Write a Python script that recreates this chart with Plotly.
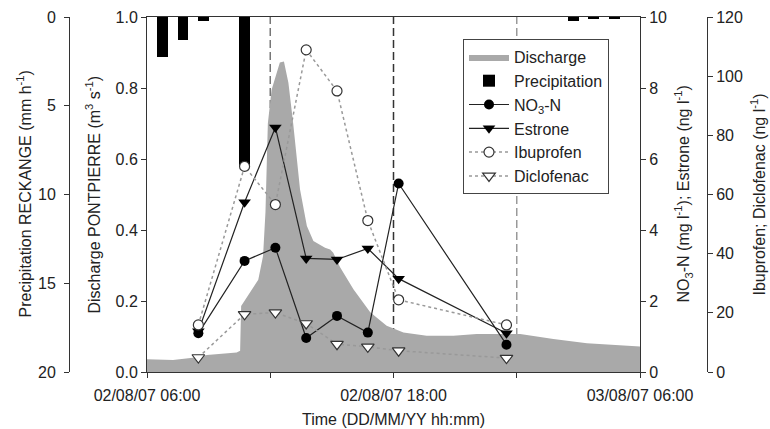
import plotly.graph_objects as go

# ---------------- data ----------------
q_time = ["2007-08-02 06:00", "2007-08-02 07:16", "2007-08-02 08:20", "2007-08-02 08:55",
          "2007-08-02 10:22", "2007-08-02 10:32", "2007-08-02 10:35", "2007-08-02 11:01",
          "2007-08-02 11:25", "2007-08-02 11:39", "2007-08-02 11:46", "2007-08-02 11:53",
          "2007-08-02 12:04", "2007-08-02 12:28", "2007-08-02 12:40", "2007-08-02 12:53",
          "2007-08-02 13:07", "2007-08-02 13:27", "2007-08-02 13:47", "2007-08-02 14:06",
          "2007-08-02 14:40", "2007-08-02 14:55", "2007-08-02 15:04", "2007-08-02 15:24",
          "2007-08-02 16:03", "2007-08-02 16:52", "2007-08-02 17:40", "2007-08-02 18:29",
          "2007-08-02 19:37", "2007-08-02 20:55", "2007-08-02 22:03", "2007-08-03 00:10",
          "2007-08-03 01:47", "2007-08-03 03:25", "2007-08-03 06:00"]
discharge = [0.036, 0.034, 0.041, 0.048,
             0.055, 0.060, 0.186, 0.224,
             0.260, 0.327, 0.45, 0.70,
             0.795, 0.872, 0.875, 0.815,
             0.700, 0.514, 0.411, 0.369,
             0.350, 0.345, 0.336, 0.295,
             0.233, 0.168, 0.130, 0.111,
             0.102, 0.102, 0.107, 0.107,
             0.093, 0.081, 0.072]

p_time = ["2007-08-02 06:45", "2007-08-02 07:45", "2007-08-02 08:45", "2007-08-02 10:45",
          "2007-08-03 02:45", "2007-08-03 03:45", "2007-08-03 04:45"]
precip = [2.25, 1.3, 0.2, 8.4, 0.2, 0.1, 0.1]

s_time = ["2007-08-02 08:30", "2007-08-02 10:45", "2007-08-02 12:15", "2007-08-02 13:45",
          "2007-08-02 15:15", "2007-08-02 16:45", "2007-08-02 18:15", "2007-08-02 23:30"]
no3 = [1.09, 3.13, 3.50, 0.96, 1.58, 1.11, 5.31, 0.77]
estrone = [1.15, 4.78, 6.89, 3.20, 3.17, 3.48, 2.63, 1.09]
ibuprofen = [15.9, 69.5, 56.6, 108.9, 95.0, 51.2, 24.4, 15.9]
diclofenac = [4.9, 19.5, 20.1, 16.4, 9.4, 8.5, 7.2, 4.7]

x_ticks = ["2007-08-02 06:00", "2007-08-02 18:00", "2007-08-03 06:00"]
x_ticktext = ["02/08/07 06:00", "02/08/07 18:00", "03/08/07 06:00"]
vlines = ["2007-08-02 12:00", "2007-08-02 18:00", "2007-08-03 00:00"]
vline_colors = ["#777777", "#333333", "#999999"]

# ---------------- layout geometry ----------------
W, H = 770, 429
L, R = 147, 640
T, B = 17, 372
FONT = "Arial, Liberation Sans, sans-serif"
FS = 16
AX = "#333333"


def px(x):
    return x / W


def py(y):
    return (B - y) / (B - T)


fig = go.Figure()

fig.add_trace(go.Scatter(x=q_time, y=discharge, name="Discharge", mode="lines",
                         fill="tozeroy", fillcolor="#a9a9a9",
                         line=dict(color="#a9a9a9", width=0), yaxis="y"))

fig.add_trace(go.Bar(x=p_time, y=precip, name="Precipitation", marker_color="black",
                     marker_line_width=0, width=1.9e6, yaxis="y2"))

fig.add_trace(go.Scatter(x=s_time, y=no3, name="NO<sub>3</sub>-N", mode="lines+markers",
                         line=dict(color="#222222", width=1.2),
                         marker=dict(symbol="circle", size=10, color="black"),
                         yaxis="y3"))
fig.add_trace(go.Scatter(x=s_time, y=estrone, name="Estrone", mode="lines+markers",
                         line=dict(color="#222222", width=1.2),
                         marker=dict(symbol="triangle-down", size=11, color="black"),
                         yaxis="y3"))
fig.add_trace(go.Scatter(x=s_time, y=ibuprofen, name="Ibuprofen", mode="lines+markers",
                         line=dict(color="#999999", width=1.5, dash="dot"),
                         marker=dict(symbol="circle", size=10, color="white",
                                     line=dict(color="#333333", width=1.2)),
                         yaxis="y4"))
fig.add_trace(go.Scatter(x=s_time, y=diclofenac, name="Diclofenac", mode="lines+markers",
                         line=dict(color="#999999", width=1.5, dash="dot"),
                         marker=dict(symbol="triangle-down", size=11, color="white",
                                     line=dict(color="#333333", width=1.2)),
                         yaxis="y4"))

shapes = []
for v, c in zip(vlines, vline_colors):
    shapes.append(dict(type="line", xref="x", yref="paper", x0=v, x1=v, y0=0, y1=1,
                       line=dict(color=c, width=1.5, dash="8px,4px"), layer="below"))

axis_common = dict(showgrid=False, zeroline=False, showline=True, linecolor=AX,
                   linewidth=1, ticks="outside", ticklen=5, tickcolor=AX,
                   tickfont=dict(family=FONT, size=FS, color="#222222"), automargin=False)

annotations = [
    dict(text="Precipitation RECKANGE (mm h<sup>-1</sup>)", x=px(24), y=0.5, textangle=-90),
    dict(text="Discharge PONTPIERRE (m<sup>3</sup> s<sup>-1</sup>)", x=px(93), y=0.5, textangle=-90),
    dict(text="NO<sub>3</sub>-N (mg l<sup>-1</sup>); Estrone (ng l<sup>-1</sup>)", x=px(683), y=0.5, textangle=-90),
    dict(text="Ibuprofen; Diclofenac (ng l<sup>-1</sup>)", x=px(758), y=0.5, textangle=-90),
    dict(text="Time (DD/MM/YY hh:mm)", x=px(393), y=py(419), textangle=0),
]
for a in annotations:
    a.update(xref="paper", yref="paper", showarrow=False, xanchor="center", yanchor="middle",
             font=dict(family=FONT, size=FS, color="#222222"))

fig.update_layout(
    width=W, height=H,
    margin=dict(l=0, r=0, t=T, b=H - B, pad=0),
    paper_bgcolor="white", plot_bgcolor="white",
    font=dict(family=FONT, size=FS, color="#222222"),
    showlegend=True,
    legend=dict(x=px(463), y=py(39), xanchor="left", yanchor="top",
                bordercolor="#444444", borderwidth=1, bgcolor="white",
                font=dict(family=FONT, size=FS, color="#222222"),
                tracegroupgap=0, itemwidth=40),
    xaxis=dict(axis_common, domain=[px(L), px(R)], type="date",
               range=["2007-08-02 06:00", "2007-08-03 06:00"],
               tickmode="array", tickvals=x_ticks, ticktext=x_ticktext, mirror=True,
               ticklabelstandoff=4,
               minor=dict(ticks="outside", ticklen=5, tickcolor=AX,
                          tick0="2007-08-02 06:00", dtick=6 * 3600 * 1000, showgrid=False)),
    yaxis=dict(axis_common, range=[0, 1.0], tickmode="array",
               tickvals=[0, 0.2, 0.4, 0.6, 0.8, 1.0], tickformat=".1f"),
    yaxis2=dict(axis_common, overlaying="y", anchor="free", side="left",
                position=px(69), range=[20, 0], tickmode="array",
                tickvals=[0, 5, 10, 15, 20], ticklabelstandoff=5),
    yaxis3=dict(axis_common, overlaying="y", anchor="x", side="right",
                range=[0, 10], tickmode="array", tickvals=[0, 2, 4, 6, 8, 10]),
    yaxis4=dict(axis_common, overlaying="y", anchor="free", side="right",
                position=px(707), range=[0, 120], tickmode="array",
                tickvals=[0, 20, 40, 60, 80, 100, 120]),
    shapes=shapes,
    annotations=annotations,
    bargap=0,
)

fig.write_html("out.html")
